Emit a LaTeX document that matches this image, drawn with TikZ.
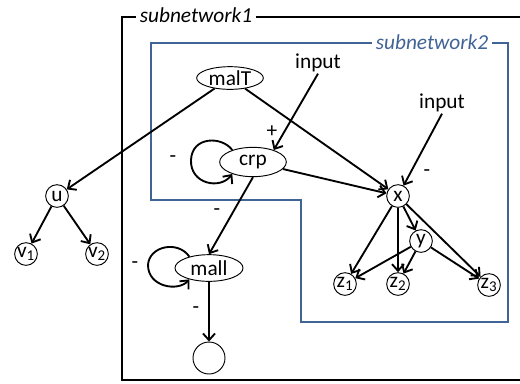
\documentclass[tikz,border=0pt]{standalone}
\usepackage{fontspec}
\setmainfont{Carlito}
\usetikzlibrary{arrows.meta,shapes.geometric}
\definecolor{netblue}{RGB}{65,100,150}
\begin{document}
\begin{tikzpicture}[x=0.75pt,y=-0.75pt,
  every node/.style={font=\fontsize{16}{19}\selectfont},
  ell/.style={draw,ellipse,line width=0.7pt,inner sep=0pt},
  circ/.style={draw,circle,line width=0.7pt,inner sep=0pt,minimum size=17pt},
  edge/.style={line width=1.4pt,-{Straight Barb[length=5pt,width=9pt]}},
  sign/.style={inner sep=0pt},
  netlabel/.style={fill=white,inner xsep=3pt,inner ysep=1pt,font=\fontsize{16}{19}\selectfont\itshape}]
\useasboundingbox (0,0) rectangle (520,383);
\clip (0,0) rectangle (520,383);
% subnetwork frames
\draw[line width=1.5pt] (540,17) -- (122,17) -- (122,380) -- (540,380);
\node[netlabel] (s1) at (196,15) {subnetwork1};
\draw[netblue,line width=1.1pt] (151,43) -- (508,43) -- (508,322) -- (301,322) -- (301,200) -- (151,200) -- cycle;
\node[netlabel,text=netblue] (s2) at (432,42) {subnetwork2};
% nodes
\node[ell,minimum width=50pt,minimum height=17pt] (malT) at (230,78) {malT};
\node[ell,minimum width=50pt,minimum height=22pt] (crp) at (253,162) {crp};
\node[ell,minimum width=51pt,minimum height=20pt] (mall) at (209,268) {mall};
\node[circ,minimum size=24pt] (out) at (209,358) {};
\node[circ] (x) at (398,196) {x};
\node[circ] (y) at (421,241) {y};
\node[circ] (z1) at (345,284) {z\textsubscript{1}};
\node[circ] (z2) at (398,284) {z\textsubscript{2}};
\node[circ] (z3) at (489,285) {z\textsubscript{3}};
\node[circ] (u) at (57,196) {u};
\node[circ] (v1) at (26,254) {v\textsubscript{1}};
\node[circ] (v2) at (97,254) {v\textsubscript{2}};
\node[inner sep=1pt] (in1) at (318,63) {input};
\node[inner sep=1pt] (in2) at (442,103) {input};
% signs
\node[sign] (p1) at (272,132) {+};
\node[sign] (m1) at (173,159) {-};
\node[sign] (m2) at (217,212) {-};
\node[sign] (m3) at (427,173) {-};
\node[sign] (m4) at (135,265) {-};
\node[sign] (m5) at (196,310) {-};
% edges
\draw[edge] (malT) -- (u);
\draw[edge] (malT) -- (x);
\draw[edge] (in1.south) -- (crp.30);
\draw[edge] (in2.south) -- (x);
\draw[edge] (crp) -- (x);
\draw[edge] (crp.south) -- (mall.north);
\draw[edge] (crp.150) .. controls (222,136) and (192,136) .. (191,160) .. controls (190,184) and (220,190) .. (crp.210);
\draw[edge] (mall.150) .. controls (178,240) and (149,246) .. (148,265) .. controls (148,287) and (178,292) .. (mall.210);
\draw[edge] (mall) -- (out);
\draw[edge] (x) -- (z1);
\draw[edge] (x) -- (z2);
\draw[edge] (x) -- (y);
\draw[edge] (x) -- (z3);
\draw[edge] (y) -- (z1);
\draw[edge] (y) -- (z2);
\draw[edge] (y) -- (z3);
\draw[edge] (u) -- (v1);
\draw[edge] (u) -- (v2);
\end{tikzpicture}
\end{document}
